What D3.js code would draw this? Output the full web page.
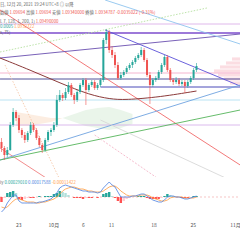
<!DOCTYPE html>
<html>
<head>
<meta charset="utf-8">
<script src="https://cdn.jsdelivr.net/npm/d3@7"></script>
<style>
  body { margin: 0; background: #fff; }
  svg { display: block; font-family: "Noto Sans CJK JP", "Noto Sans", sans-serif; }
</style>
</head>
<body>
<div id="chart"></div>
<script>
// candles: [open, high, low, close]
var candles = [
  [1.0858,1.0862,1.0848,1.0852],[1.0852,1.0854,1.0840,1.0845],[1.0845,1.0853,1.0843,1.0850],
  [1.0850,1.0878,1.0849,1.0875],[1.0875,1.0892,1.0873,1.0888],[1.0888,1.0890,1.0879,1.0882],
  [1.0882,1.0885,1.0867,1.0870],[1.0870,1.0872,1.0862,1.0865],[1.0865,1.0868,1.0857,1.0860],
  [1.0860,1.0869,1.0858,1.0867],[1.0867,1.0878,1.0865,1.0875],[1.0875,1.0877,1.0868,1.0870],
  [1.0870,1.0872,1.0860,1.0862],[1.0862,1.0864,1.0853,1.0855],[1.0855,1.0857,1.0847,1.0850],
  [1.0850,1.0862,1.0848,1.0860],[1.0860,1.0870,1.0858,1.0868],[1.0868,1.0872,1.0864,1.0870],
  [1.0870,1.0878,1.0868,1.0875],[1.0875,1.0905,1.0873,1.0900],[1.0900,1.0910,1.0898,1.0905],
  [1.0905,1.0907,1.0899,1.0902],[1.0902,1.0912,1.0900,1.0908],[1.0908,1.0918,1.0906,1.0915],
  [1.0915,1.0917,1.0903,1.0905],[1.0905,1.0907,1.0896,1.0900],[1.0900,1.0910,1.0898,1.0908],
  [1.0908,1.0917,1.0906,1.0915],[1.0915,1.0922,1.0913,1.0920],[1.0920,1.0922,1.0895,1.0910],
  [1.0910,1.0917,1.0908,1.0915],[1.0915,1.0920,1.0913,1.0918],[1.0918,1.0920,1.0910,1.0912],
  [1.0912,1.0917,1.0910,1.0915],[1.0915,1.0922,1.0913,1.0920],[1.0920,1.0962,1.0918,1.0960],
  [1.0960,1.0971,1.0956,1.0968],[1.0968,1.0970,1.0947,1.0950],[1.0950,1.0954,1.0942,1.0945],
  [1.0945,1.0948,1.0932,1.0935],[1.0935,1.0938,1.0920,1.0922],[1.0922,1.0928,1.0920,1.0925],
  [1.0925,1.0930,1.0923,1.0928],[1.0928,1.0934,1.0926,1.0932],[1.0932,1.0937,1.0930,1.0935],
  [1.0935,1.0940,1.0932,1.0938],[1.0938,1.0944,1.0936,1.0942],[1.0942,1.0947,1.0940,1.0945],
  [1.0945,1.0953,1.0943,1.0950],[1.0950,1.0952,1.0938,1.0940],[1.0940,1.0942,1.0923,1.0925],
  [1.0925,1.0928,1.0896,1.0915],[1.0915,1.0922,1.0913,1.0920],[1.0920,1.0924,1.0918,1.0922],
  [1.0922,1.0930,1.0920,1.0928],[1.0928,1.0937,1.0926,1.0935],[1.0935,1.0945,1.0933,1.0943],
  [1.0943,1.0945,1.0928,1.0930],[1.0930,1.0932,1.0918,1.0920],[1.0920,1.0922,1.0915,1.0918],
  [1.0918,1.0923,1.0916,1.0920],[1.0920,1.0922,1.0914,1.0916],[1.0916,1.0920,1.0914,1.0918],
  [1.0918,1.0920,1.0907,1.0914],[1.0914,1.0920,1.0912,1.0918],[1.0918,1.0924,1.0916,1.0922],
  [1.0922,1.0932,1.0920,1.0930],[1.0930,1.0937,1.0928,1.0934]
];

var macdLine = [-0.0015,-0.0012,-0.0006,-0.0002,0.0002,0.0002,-0.0004,-0.0006,-0.0006,-0.0006,
  -0.0006,-0.0006,-0.0006,-0.0005,-0.0005,-0.0004,-0.0003,-0.0002,0.0001,0.0004,
  0.0009,0.0011,0.0012,0.0011,0.0010,0.0009,0.0008,0.0007,0.0006,0.0006,
  0.0005,0.0005,0.0005,0.0004,0.0005,0.0009,0.0012,0.0015,0.0012,0.0010,
  0.0005,0.0000,0.0000,0.0000,0.0000,0.0001,0.0001,0.0002,0.0003,0.0003,
  0.0001,-0.0001,-0.0003,-0.0004,-0.0005,-0.0005,-0.0003,0.0000,0.0001,0.0001,
  0.0000,0.0000,-0.0001,-0.0002,-0.0002,-0.0001,0.0000,0.0001];
var signalLine = [-0.0010,-0.0011,-0.0010,-0.0007,-0.0004,-0.0002,-0.0002,-0.0003,-0.0004,-0.0005,
  -0.0005,-0.0005,-0.0006,-0.0006,-0.0005,-0.0005,-0.0004,-0.0003,-0.0002,0.0000,
  0.0003,0.0006,0.0008,0.0009,0.0010,0.0010,0.0009,0.0008,0.0008,0.0007,
  0.0006,0.0006,0.0005,0.0005,0.0005,0.0006,0.0008,0.0010,0.0011,0.0011,
  0.0009,0.0006,0.0004,0.0002,0.0001,0.0001,0.0001,0.0001,0.0002,0.0002,
  0.0002,0.0001,-0.0001,-0.0002,-0.0003,-0.0004,-0.0004,-0.0003,-0.0001,0.0000,
  0.0000,0.0000,0.0000,-0.0001,-0.0001,-0.0001,-0.0001,0.0000];
var histogram = [-0.0005,-0.0001,0.0004,0.0005,0.0006,0.0004,-0.0002,-0.0003,-0.0002,-0.0001,
  -0.0001,-0.0001,0.0000,0.0001,0.0000,0.0001,0.0001,0.0001,0.0003,0.0004,
  0.0006,0.0005,0.0004,0.0002,0.0000,-0.0001,-0.0001,-0.0001,-0.0002,-0.0001,
  -0.0001,-0.0001,0.0000,-0.0001,0.0000,0.0003,0.0004,0.0005,0.0001,-0.0001,
  -0.0004,-0.0006,-0.0004,-0.0002,-0.0001,0.0000,0.0000,0.0001,0.0001,0.0001,
  -0.0001,-0.0002,-0.0002,-0.0002,-0.0002,-0.0001,0.0001,0.0003,0.0002,0.0001,
  0.0000,0.0000,-0.0001,-0.0001,-0.0001,0.0000,0.0001,0.0001];

// long moving average (index, price)
var maIdx = [-0.5, 9.8, 20.1, 30.4, 37.3, 42.4, 54.5, 67];
var maVal = [1.0942, 1.0930, 1.0917, 1.0905, 1.0901, 1.0900, 1.0903, 1.0909];

// cloud spans
var cloudIdx = [5, 9, 13, 17, 21, 25, 29, 33, 37, 41, 45];
var spanA = [1.0874, 1.0874, 1.0876, 1.0878, 1.0882, 1.0886, 1.0890, 1.0892, 1.0893, 1.0890, 1.0886];
var spanB = [1.0888, 1.0886, 1.0884, 1.0882, 1.0882, 1.0878, 1.0874, 1.0872, 1.0870, 1.0872, 1.0876];

// horizontal levels
var levelPrices = [1.0976, 1.0967, 1.0927, 1.0921, 1.0913, 1.0900, 1.0875];
var levelStart  = [-0.5, -0.5, -0.5, -0.5, 34, -0.5, -0.5];
var levelColors = ["#d7a6e6", "#7c4dcc", "#f2a3c4", "#3f3f8f", "#4b4bb8", "#a8dcf0", "#d2a8e8"];
var levelWidths = [0.8, 1.4, 0.8, 0.9, 1, 0.8, 0.8];

// trend lines [idx1, price1, idx2, price2]
var trendLines = [
  [-0.5, 1.0990, 82, 1.0835], [-0.5, 1.0852, 20.1, 1.0813],
  [35.6, 1.0970, 82, 1.0914], [-0.5, 1.0942, 82, 1.0966],
  [35.6, 1.1000, 82, 1.0956], [-0.5, 1.0948, 70.6, 1.0992],
  [-0.5, 1.0840, 82, 1.0915], [-0.5, 1.0840, 82, 1.0890],
  [1.2, 1.0935, 20.1, 1.0820], [32, 1.0865, 54.5, 1.0820], [34, 1.0880, 77, 1.0822]
];
var trendColors = ["#f06a6a", "#f08080", "#5a50d8", "#6a4fb0", "#8fc4ee", "#b6e0a0",
  "#6fa3e0", "#55b45a", "#f5c7a8", "#f4b6c8", "#d8d8d8"];
var trendDash = ["", "", "", "", "", "1.5,1.5", "", "", "1.5,1.5", "2,1.5", ""];

// volume profile at right edge
var vpPrices = [1.0941, 1.0937, 1.0933, 1.0929, 1.0925, 1.0921, 1.0917];
var vpSizes  = [8, 14, 20, 26, 22, 16, 10];

var tickIdx = [5.9, 18, 28.1, 37.8, 52.4, 65.9, 80.4];
var tickLabels = ["23", "10月", "6", "11", "18", "25", "11月"];

var width = 240, height = 240;
var paneBottom = 177;

var svg = d3.select("#chart").append("svg")
  .attr("width", width).attr("height", height);

var x = d3.scaleLinear().domain([0, 67]).range([1.5, 196.5]);
var y = d3.scaleLinear().domain([1.0825, 1.1000]).range([175, 0]);
var yM = d3.scaleLinear().domain([-0.0020, 0.0020]).range([217, 177]);

svg.append("defs").append("clipPath").attr("id", "pane")
  .append("rect").attr("x", 0).attr("y", 0).attr("width", width).attr("height", paneBottom);

var pane = svg.append("g").attr("clip-path", "url(#pane)");

// cloud: orange where spanB above spanA, green otherwise
var cloud = cloudIdx.map(function(d, i){ return {i: d, a: spanA[i], b: spanB[i]}; });
var cloudArea = d3.area().x(function(d){ return x(d.i); })
  .y0(function(d){ return y(d.a); }).y1(function(d){ return y(d.b); });
pane.append("path").datum(cloud.filter(function(d){ return d.b >= d.a; }))
  .attr("d", cloudArea).attr("fill", "#f9dcc4").attr("opacity", 0.5);
pane.append("path").datum(cloud.filter(function(d){ return d.a >= d.b; }))
  .attr("d", cloudArea).attr("fill", "#d6ecd6").attr("opacity", 0.5);

// volume profile
pane.selectAll("rect.vp").data(vpPrices).enter().append("rect")
  .attr("x", function(d, i){ return width - vpSizes[i]; })
  .attr("y", function(d){ return y(d) - 1.6; })
  .attr("width", function(d, i){ return vpSizes[i]; })
  .attr("height", 3.2)
  .attr("fill", "#f8c6cf").attr("opacity", 0.6);

// horizontal levels
pane.selectAll("line.level").data(levelPrices).enter().append("line")
  .attr("x1", function(d, i){ return x(levelStart[i]); }).attr("x2", width)
  .attr("y1", function(d){ return y(d); }).attr("y2", function(d){ return y(d); })
  .attr("stroke", function(d, i){ return levelColors[i]; })
  .attr("stroke-width", function(d, i){ return levelWidths[i]; });

// trend lines
pane.selectAll("line.trend").data(trendLines).enter().append("line")
  .attr("x1", function(d){ return x(d[0]); }).attr("y1", function(d){ return y(d[1]); })
  .attr("x2", function(d){ return x(d[2]); }).attr("y2", function(d){ return y(d[3]); })
  .attr("stroke", function(d, i){ return trendColors[i]; })
  .attr("stroke-dasharray", function(d, i){ return trendDash[i]; })
  .attr("stroke-width", 0.9);

// moving average
pane.append("path").datum(maIdx.map(function(d, i){ return [d, maVal[i]]; }))
  .attr("d", d3.line().x(function(d){ return x(d[0]); }).y(function(d){ return y(d[1]); }).curve(d3.curveBasis))
  .attr("fill", "none").attr("stroke", "#8b3a3a").attr("stroke-width", 1);

// candles
var up = "#26a69a", down = "#ef5350";
var cg = pane.selectAll("g.candle").data(candles).enter().append("g");
cg.append("line")
  .attr("x1", function(d, i){ return x(i); }).attr("x2", function(d, i){ return x(i); })
  .attr("y1", function(d){ return y(d[1]); }).attr("y2", function(d){ return y(d[2]); })
  .attr("stroke", function(d){ return d[3] >= d[0] ? up : down; }).attr("stroke-width", 0.6);
cg.append("rect")
  .attr("x", function(d, i){ return x(i) - 1; }).attr("width", 2)
  .attr("y", function(d){ return y(Math.max(d[0], d[3])); })
  .attr("height", function(d){ return Math.max(0.6, Math.abs(y(d[0]) - y(d[3]))); })
  .attr("fill", function(d){ return d[3] >= d[0] ? up : down; });

// MACD pane
svg.append("line").attr("x1", 0).attr("x2", width).attr("y1", yM(0)).attr("y2", yM(0))
  .attr("stroke", "#f0a0a0").attr("stroke-width", 0.6).attr("stroke-dasharray", "2,2");

svg.selectAll("rect.hist").data(histogram).enter().append("rect")
  .attr("x", function(d, i){ return x(i) - 1.2; }).attr("width", 2.4)
  .attr("y", function(d){ return Math.min(yM(d), yM(0)); })
  .attr("height", function(d){ return Math.abs(yM(d) - yM(0)); })
  .attr("fill", function(d, i){
    var prev = i > 0 ? histogram[i - 1] : d;
    if (d >= 0) return d >= prev ? "#26a69a" : "#b2dfdb";
    return d <= prev ? "#ff5252" : "#ffcdd2";
  });

var mline = d3.line().x(function(d, i){ return x(i); }).y(function(d){ return yM(d); });
svg.append("path").datum(signalLine).attr("d", mline)
  .attr("fill", "none").attr("stroke", "#ff9a3c").attr("stroke-width", 0.8);
svg.append("path").datum(macdLine).attr("d", mline)
  .attr("fill", "none").attr("stroke", "#4a7fe0").attr("stroke-width", 0.8);

// x axis labels
svg.selectAll("text.tick").data(tickLabels).enter().append("text")
  .attr("x", function(d, i){ return x(tickIdx[i]); }).attr("y", 227)
  .attr("text-anchor", "middle").attr("font-size", 5).attr("fill", "#555")
  .text(function(d){ return d; });

// header texts
var head = svg.append("g").attr("font-size", 4.3);
head.append("text").attr("x", 0).attr("y", 6).attr("fill", "#666")
  .text("日, 12月 20, 2021  19:24 UTC+8  ◎ 以降");
var t2 = head.append("text").attr("x", 0).attr("y", 13.5);
t2.append("tspan").attr("fill", "#666").text("始値 ");
t2.append("tspan").attr("fill", "#ef5350").text("1.09694  ");
t2.append("tspan").attr("fill", "#666").text("高値 ");
t2.append("tspan").attr("fill", "#ef5350").text("1.09694 ");
t2.append("tspan").attr("fill", "#666").text("安値 ");
t2.append("tspan").attr("fill", "#ef5350").text("1.09340000 ");
t2.append("tspan").attr("fill", "#666").text("終値 ");
t2.append("tspan").attr("fill", "#ef5350").text("1.0934787  -0.0035022 (-0.31%)");
var t3 = head.append("text").attr("x", 0).attr("y", 22.5);
t3.append("tspan").attr("fill", "#666").text("L 7, 128, 1, 200, 1)  ");
t3.append("tspan").attr("fill", "#ef5350").text("1.09490000");
var t4 = head.append("text").attr("x", 0).attr("y", 28);
t4.append("tspan").attr("fill", "#26a69a").text("0.0005  ");
t4.append("tspan").attr("fill", "#ff9a3c").text("1.0932722");
head.append("text").attr("x", 0).attr("y", 33.5).attr("fill", "#666").text("s, 75)");

var t5 = svg.append("text").attr("x", 0).attr("y", 183.5).attr("font-size", 4.3);
t5.append("tspan").attr("fill", "#666").text("ly  ");
t5.append("tspan").attr("fill", "#26a69a").text("0.00029010  ");
t5.append("tspan").attr("fill", "#4a7fe0").text("0.00017588  ");
t5.append("tspan").attr("fill", "#ff9a3c").text("-0.00011422");
</script>
</body>
</html>
